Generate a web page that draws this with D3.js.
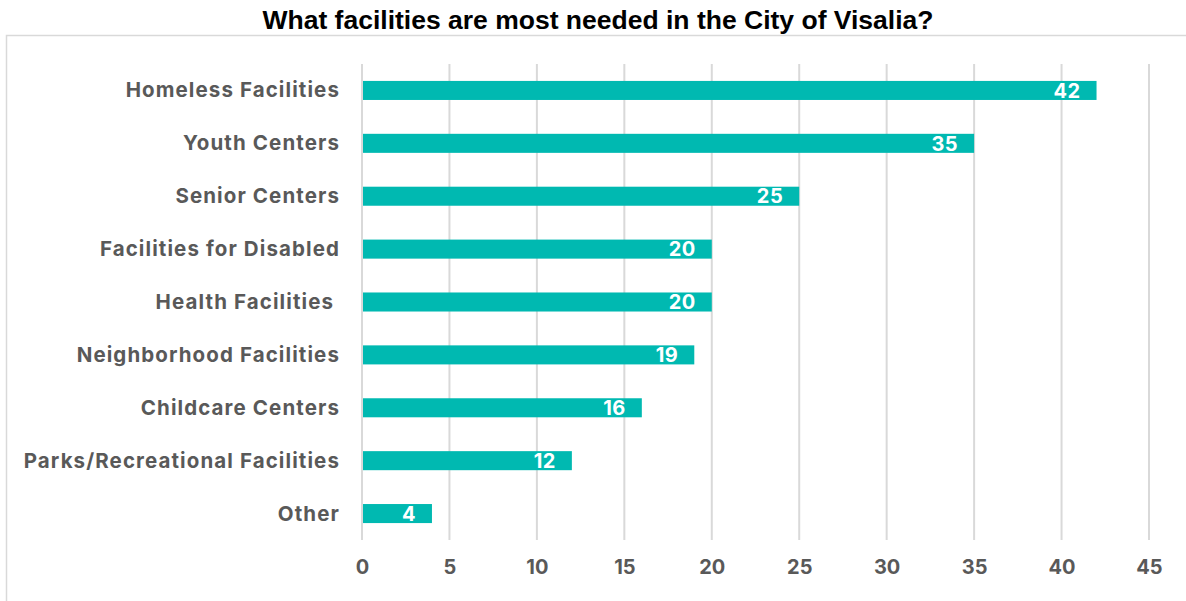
<!DOCTYPE html>
<html><head><meta charset="utf-8">
<script src="https://cdn.jsdelivr.net/npm/d3@7"></script>
<style>body{margin:0;background:#fff}svg{display:block}text{white-space:pre}</style>
</head><body>
<svg id="c" width="1186" height="601"></svg>
<script>
const categories = ["Homeless Facilities","Youth Centers","Senior Centers","Facilities for Disabled","Health Facilities ","Neighborhood Facilities","Childcare Centers","Parks/Recreational Facilities","Other"];
const values = [42,35,25,20,20,19,16,12,4];
const ticks = [0,5,10,15,20,25,30,35,40,45];
const title = "What facilities are most needed in the City of Visalia?";

const svg = d3.select("#c");
svg.append("path").attr("d","M6.5,601 V35.5 H1186").attr("fill","none").attr("stroke","#d9d9d9").attr("stroke-width",1.5);

svg.append("text").attr("x",598).attr("y",29).attr("text-anchor","middle")
  .attr("font-family","Liberation Sans, Arial").attr("font-weight","bold").attr("font-size",26.5)
  .attr("fill","#000").text(title);

const x = d3.scaleLinear().domain([0,45]).range([362,1149]);
const y = d3.scaleBand().domain(categories).range([64,540]).paddingInner(0.64).paddingOuter(0.32);

const g = svg.append("g");
g.selectAll("line.grid").data(ticks).join("line").attr("class","grid")
  .attr("x1",d=>x(d)).attr("x2",d=>x(d)).attr("y1",64).attr("y2",540)
  .attr("stroke","#d9d9d9").attr("stroke-width",2);

g.selectAll("rect").data(values).join("rect")
  .attr("x",x(0)+1).attr("y",(d,i)=>y(categories[i]))
  .attr("width",d=>x(d)-x(0)-1).attr("height",y.bandwidth())
  .attr("fill","#00b9b1");

const font = "Inter, sans-serif";
g.selectAll("text.val").data(values).join("text").attr("class","val")
  .attr("x",d=>x(d)-16).attr("y",(d,i)=>y(categories[i])+y.bandwidth()/2)
  .attr("dy","0.36em").attr("text-anchor","end")
  .attr("font-family",font).attr("font-weight","bold").attr("font-size",20).attr("letter-spacing",0.5)
  .attr("fill","#fff").text(d=>d);

const yAxis = d3.axisLeft(y).tickSize(0).tickPadding(22);
const ya = svg.append("g").attr("transform",`translate(${x(0)},0)`).call(yAxis);
ya.select(".domain").remove();
ya.selectAll("text").attr("font-family",font).attr("font-weight","bold").attr("font-size",20.5)
  .attr("letter-spacing",1.1).attr("fill","#595959").attr("dy","0.34em");

const xAxis = d3.axisBottom(x).tickValues(ticks).tickSize(0).tickPadding(20);
const xa = svg.append("g").attr("transform","translate(0,540)").call(xAxis);
xa.select(".domain").remove();
xa.selectAll("text").attr("font-family",font).attr("font-weight","bold").attr("font-size",20).attr("fill","#595959");
</script>
</body></html>
